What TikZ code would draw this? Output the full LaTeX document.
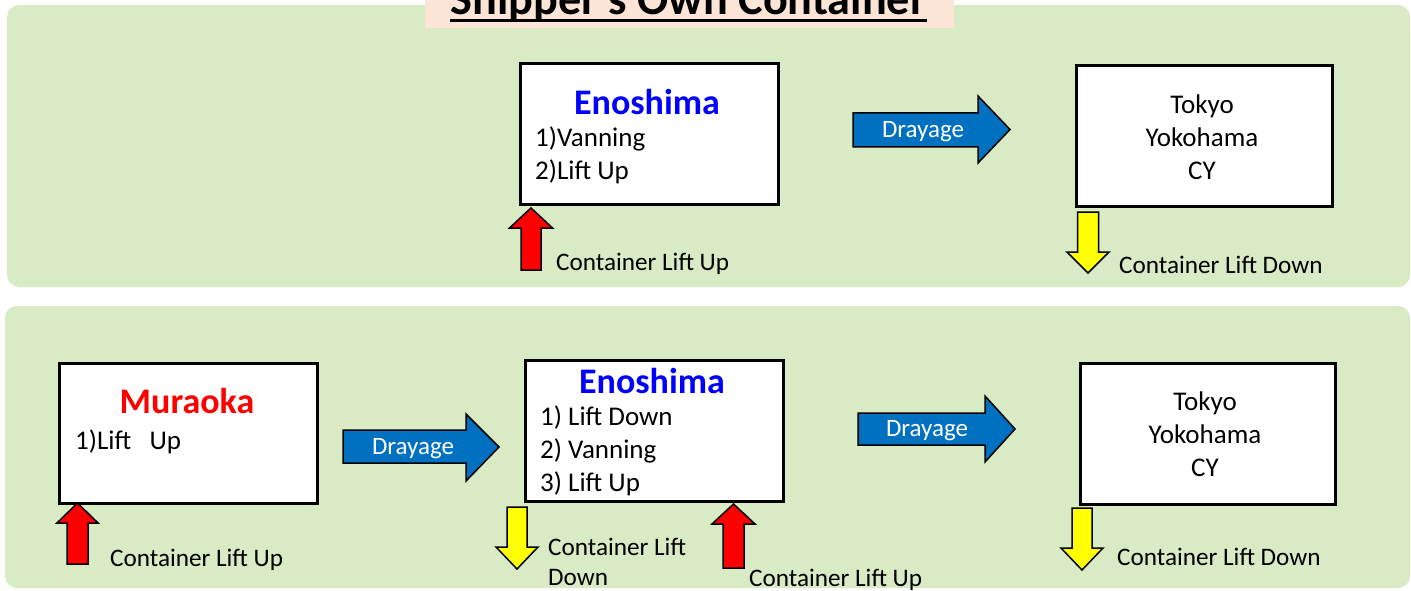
\documentclass[tikz,border=0pt]{standalone}
\usepackage{fontspec}
\setmainfont{Carlito}
\definecolor{panelgreen}{RGB}{216,235,196}
\definecolor{titlebg}{RGB}{252,228,214}
\definecolor{arrowblue}{RGB}{0,112,192}
\definecolor{enoblue}{RGB}{0,0,255}
\definecolor{murared}{RGB}{255,0,0}
\definecolor{liftred}{RGB}{255,0,0}
\definecolor{liftyellow}{RGB}{255,255,0}
\tikzset{
  panel/.style={fill=panelgreen, rounded corners=12pt},
  sitebox/.style={draw=black, line width=3pt, fill=white, inner sep=0pt, anchor=north west},
  txt/.style={inner sep=0pt, font=\fontsize{27}{33}\selectfont, text=black},
  lbl/.style={inner sep=0pt, font=\fontsize{25.2}{30}\selectfont, text=black, anchor=west},
  sitename/.style={inner sep=0pt, font=\bfseries\fontsize{36}{40}\selectfont},
  drayarrow/.style={fill=arrowblue, draw=black, line width=1.5pt, line join=miter},
  draytext/.style={inner sep=0pt, font=\fontsize{25}{30}\selectfont, text=white},
  upblock/.style={fill=liftred, draw=black, line width=1.5pt, line join=miter},
  downblock/.style={fill=liftyellow, draw=black, line width=1.5pt, line join=miter},
}
% up arrow: #1 cx, #2 tip y, #3 head base y, #4 bottom y, #5 head half width, #6 shaft half width
\newcommand\liftuparrow[6]{%
  \draw[upblock] (#1,#2) -- (#1+#5,#3) -- (#1+#6,#3) -- (#1+#6,#4) -- (#1-#6,#4) -- (#1-#6,#3) -- (#1-#5,#3) -- cycle;}
% down arrow: #1 cx, #2 top y, #3 head base y, #4 tip y, #5 head half width, #6 shaft half width
\newcommand\liftdownarrow[6]{%
  \draw[downblock] (#1-#6,#2) -- (#1+#6,#2) -- (#1+#6,#3) -- (#1+#5,#3) -- (#1,#4) -- (#1-#5,#3) -- (#1-#6,#3) -- cycle;}
\begin{document}
\begin{tikzpicture}[x=1pt,y=-1pt]
\useasboundingbox (0,0) rectangle (1411,591);
\clip (0,0) rectangle (1411,591);
\fill[white] (0,0) rectangle (1411,591);

% panels
\fill[panel] (7,5) rectangle (1410,287);
\fill[panel] (5,306) rectangle (1410,588);

% title
\fill[titlebg] (425,-10) rectangle (954,28);
\node[inner sep=0pt, anchor=base, font=\bfseries\fontsize{46.2}{50}\selectfont] (title) at (688.5,15) {Shipper’s Own Container};
\draw[line width=2.5pt] ([yshift=-5.5pt]title.base west) -- ([yshift=-5.5pt]title.base east);

% ---------- top row ----------
\node[sitebox, minimum width=258pt, minimum height=140pt] (eno1) at (518.5,62.5) {};
\node[sitename, text=enoblue] (eno1name) at (647,102) {Enoshima};
\node[txt, align=left, anchor=west] (eno1list) at (535,155) {1)Vanning\\2)Lift Up};

\draw[drayarrow] (853,113) -- (978,113) -- (978,96) -- (1010,129.5) -- (978,163) -- (978,147) -- (853,147) -- cycle;
\node[draytext] (dray1) at (923,132) {Drayage};

\node[sitebox, minimum width=256pt, minimum height=140pt] (cy1) at (1074.5,64.5) {};
\node[txt, align=center] (cy1text) at (1202,137) {Tokyo\\Yokohama\\CY};

\liftuparrow{531}{208}{228}{270}{21.5}{10}
\node[lbl] (up1) at (556,264) {Container Lift Up};

\liftdownarrow{1088}{212}{252}{273}{21}{10.5}
\node[lbl] (down1) at (1119,265) {Container Lift Down};

% ---------- bottom row ----------
\node[sitebox, minimum width=258pt, minimum height=140pt] (mura) at (58,361.5) {};
\node[sitename, text=murared] (muraname) at (187,401) {Muraoka};
\node[txt, anchor=west] (muralist) at (75,442) {1)Lift\ \ \ Up};

\draw[drayarrow] (343,430) -- (466,430) -- (466,414) -- (499,447) -- (466,481) -- (466,463) -- (343,463) -- cycle;
\node[draytext] (dray2) at (413,449) {Drayage};

\node[sitebox, minimum width=258pt, minimum height=141pt] (eno2) at (523.5,358.5) {};
\node[sitename, text=enoblue] (eno2name) at (652,381) {Enoshima};
\node[txt, align=left, anchor=west] (eno2list) at (540,451) {1) Lift Down\\2) Vanning\\3) Lift Up};

\draw[drayarrow] (858,413) -- (985,413) -- (985,396) -- (1015,429) -- (985,462) -- (985,445) -- (858,445) -- cycle;
\node[draytext] (dray3) at (927,431) {Drayage};

\node[sitebox, minimum width=255pt, minimum height=141pt] (cy2) at (1078.5,361.5) {};
\node[txt, align=center] (cy2text) at (1205,434) {Tokyo\\Yokohama\\CY};

\liftuparrow{77.5}{503}{523}{564}{20.5}{10.5}
\node[lbl] (up2) at (110,560) {Container Lift Up};

\liftdownarrow{517}{507}{547}{569}{21}{10}
\node[lbl, align=left, anchor=north west] (down2) at (548,537.5) {Container Lift\\Down};

\liftuparrow{733.5}{504}{524}{568}{21.5}{10.5}
\node[lbl] (up3) at (749,580) {Container Lift Up};

\liftdownarrow{1082}{508}{548}{570}{21}{10}
\node[lbl] (down3) at (1117,557) {Container Lift Down};
\end{tikzpicture}
\end{document}
